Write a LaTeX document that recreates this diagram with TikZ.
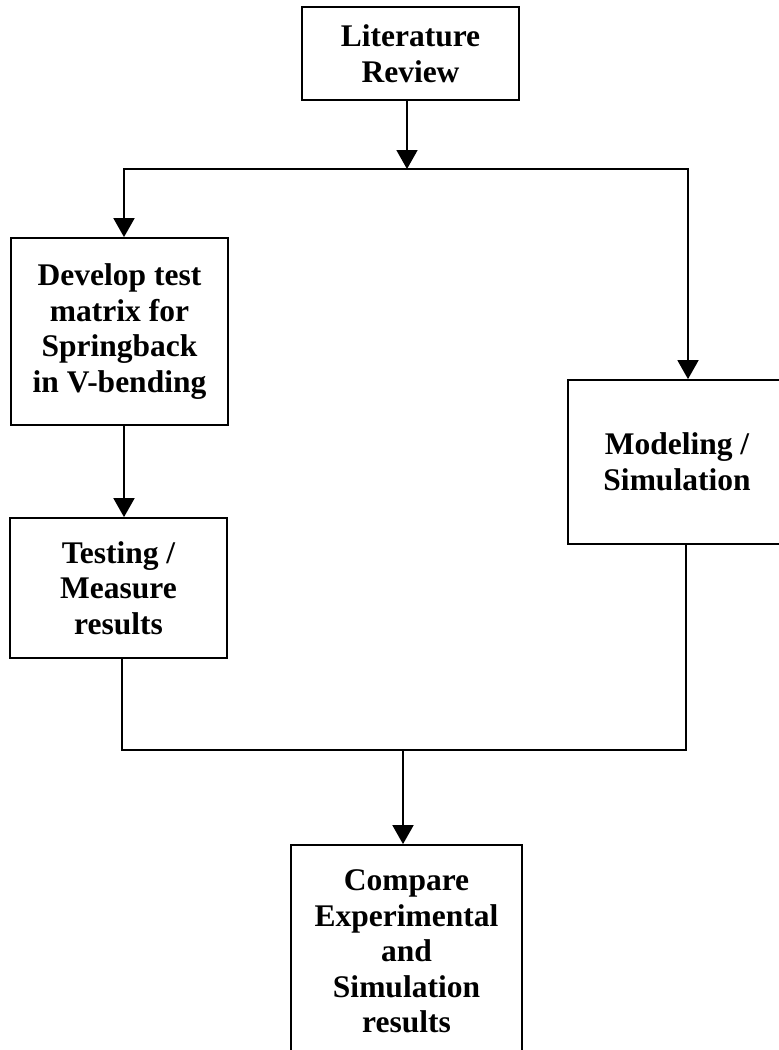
\documentclass[tikz,border=0pt]{standalone}
\usepackage{fontspec}
\setmainfont{Liberation Serif}
\usetikzlibrary{arrows.meta}

\begin{document}
\begin{tikzpicture}[x=1pt,y=-1pt,
    stage/.style={draw, line width=1.8pt, inner sep=0pt, align=center,
        font=\fontsize{31.5}{35.6}\selectfont\bfseries},
    flow/.style={line width=1.8pt, line join=miter,
        -{Triangle[width=21pt,length=19pt]}},
    mergeline/.style={line width=1.8pt, line join=miter}]
    \clip (0,0) rectangle (779,1050);

    \coordinate (split) at (407,169);
    \coordinate (splitL) at (124,169);
    \coordinate (splitR) at (688,169);
    \coordinate (mergeL) at (122,750);
    \coordinate (mergeR) at (686,750);
    \coordinate (merge) at (403,750);

    \node[stage, minimum width=217pt, minimum height=93pt] (litreview) at (410.5,53.5) {Literature\\Review};
    \node[stage, minimum width=217pt, minimum height=187pt] (develop) at (119.5,331.5) {Develop test\\matrix for\\Springback\\in V-bending};
    \node[stage, minimum width=217pt, minimum height=140pt] (testing) at (118.5,588) {Testing /\\Measure\\results};
    \node[stage, minimum width=218pt, minimum height=164pt] (modeling) at (677,462) {Modeling /\\Simulation};
    \node[stage, minimum width=231pt, minimum height=213pt] (compare) at (406.5,951.5) {Compare\\Experimental\\and\\Simulation\\results};

    % split into the two branches
    \draw[flow] (litreview.south -| split) -- (split);
    \draw[flow] (split) -| (develop.north -| splitL);
    \draw[flow] (split) -| (modeling.north -| splitR);
    \draw[flow] (develop.south -| splitL) -- (testing.north -| splitL);

    % bring both branches together
    \draw[mergeline] (testing.south -| mergeL) -- (mergeL) -- (mergeR) -- (modeling.south -| mergeR);
    \draw[flow] (merge) -- (compare.north -| merge);
\end{tikzpicture}
\end{document}
